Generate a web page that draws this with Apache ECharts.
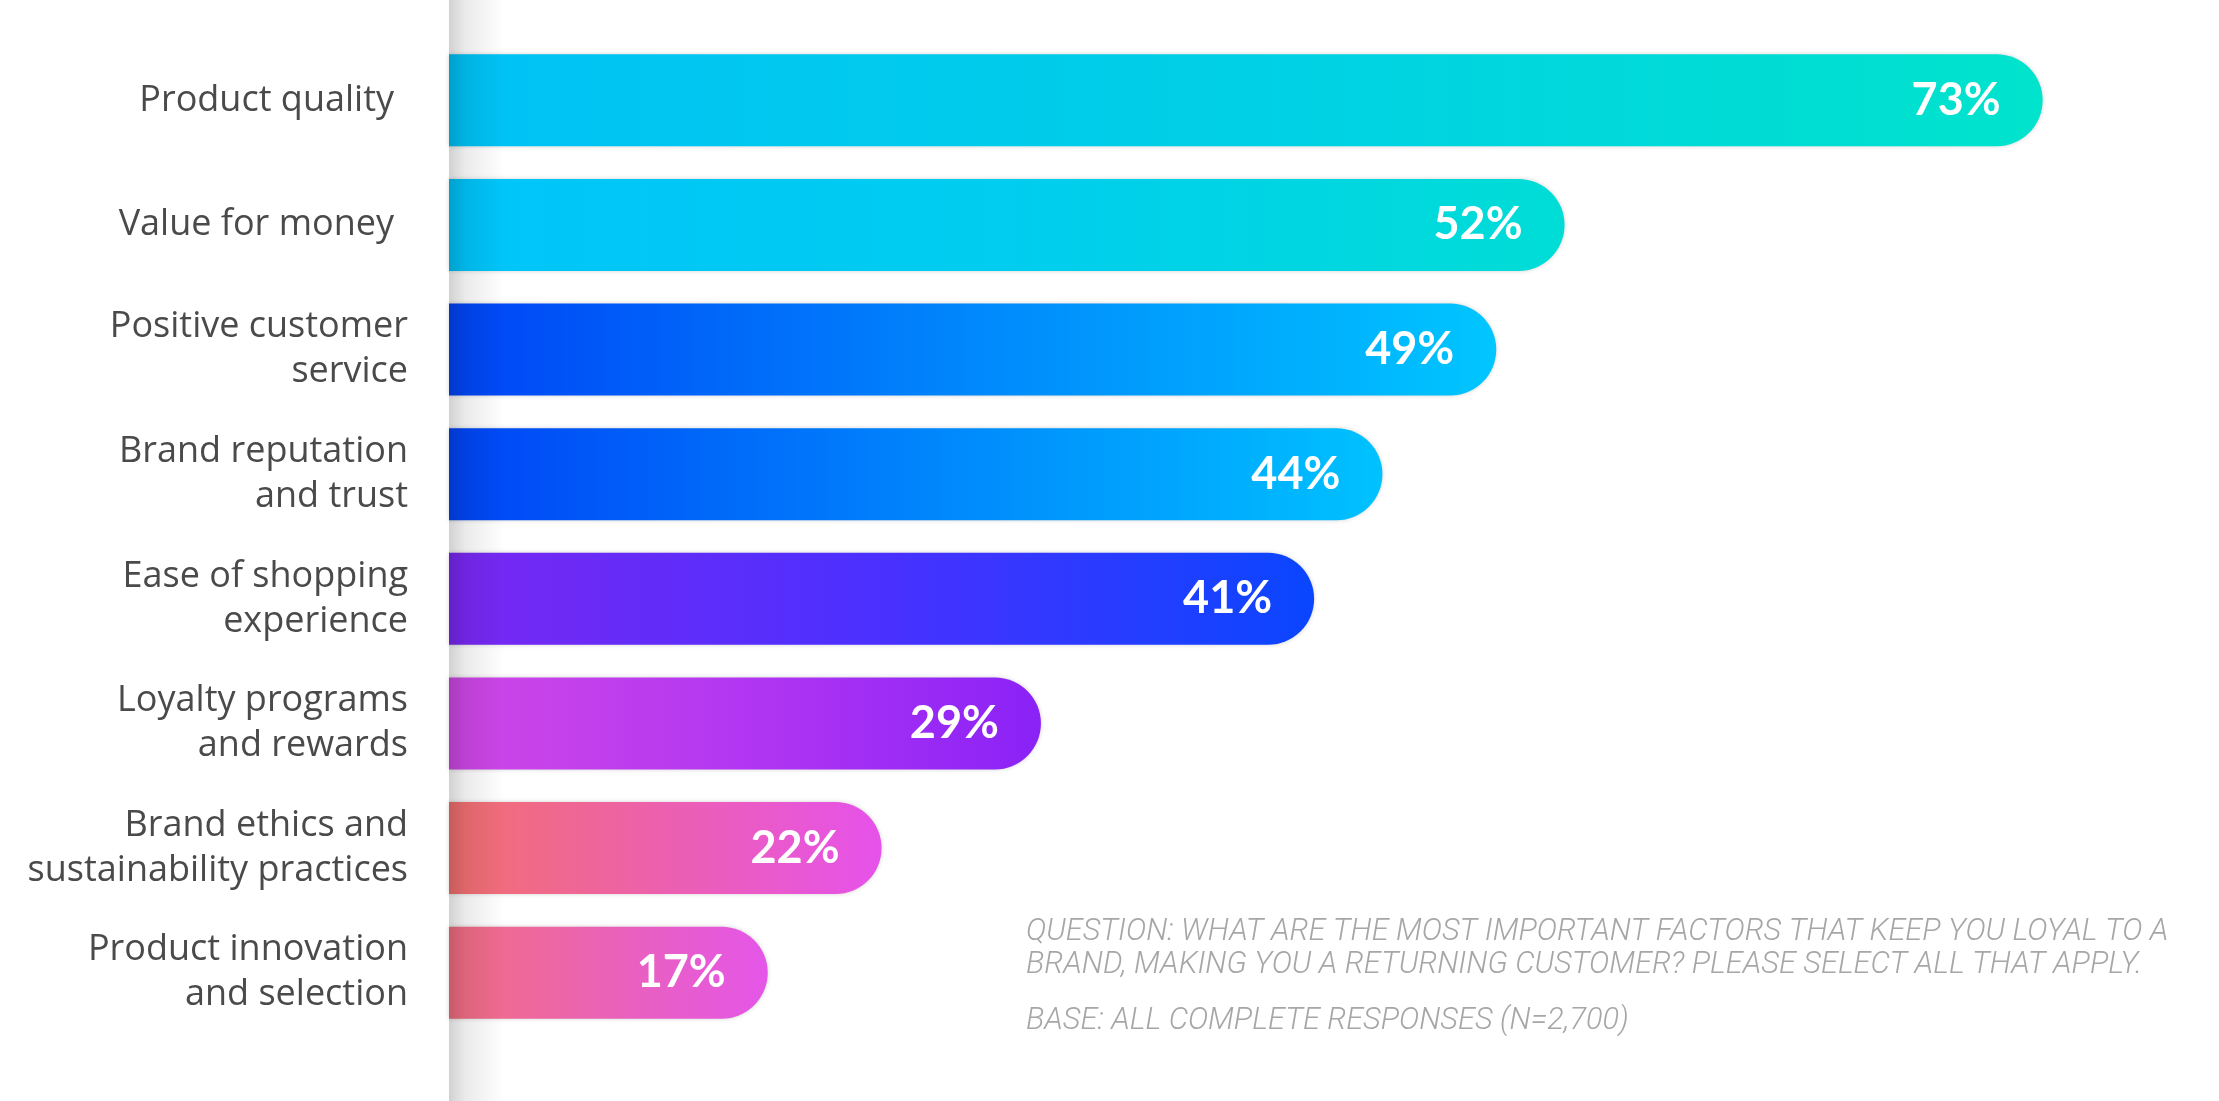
<!DOCTYPE html>
<html>
<head>
<meta charset="utf-8">
<style>
  html, body { margin: 0; padding: 0; background: #ffffff; }
  #chart { width: 2219px; height: 1101px; }
</style>
<script src="https://cdn.jsdelivr.net/npm/echarts@6/dist/echarts.min.js"></script>
</head>
<body>
<div id="chart"></div>
<script>
// Loyalty drivers, share of respondents (%)
const categories = [
  'Product quality',
  'Value for money',
  'Positive customer\nservice',
  'Brand reputation\nand trust',
  'Ease of shopping\nexperience',
  'Loyalty programs\nand rewards',
  'Brand ethics and\nsustainability practices',
  'Product innovation\nand selection'
];
const values = [73, 52, 49, 44, 41, 29, 22, 17];

// Per-bar horizontal gradient stops (left -> right)
const barGradients = [
  ['#00c2f6', '#00d0e6', '#00e3cc'],
  ['#00c4fa', '#00cdef', '#00ddd6'],
  ['#0044f6', '#0088fc', '#00c6ff'],
  ['#0044f6', '#0084fc', '#00c2ff'],
  ['#7a28f2', '#4a30ff', '#0a46ff'],
  ['#cf48e6', '#b236f2', '#8a22f6'],
  ['#f2706e', '#ec60b0', '#e652ea'],
  ['#f26e80', '#ea62b8', '#e456e8']
];

const noteLines = [
  'QUESTION: WHAT ARE THE MOST IMPORTANT FACTORS THAT KEEP YOU LOYAL TO A',
  'BRAND, MAKING YOU A RETURNING CUSTOMER? PLEASE SELECT ALL THAT APPLY.',
  'BASE: ALL COMPLETE RESPONSES (N=2,700)'
];

const chart = echarts.init(document.getElementById('chart'), null, { renderer: 'canvas' });

const gridLeft = 449;

const barData = values.map((v, i) => ({
  value: v,
  itemStyle: {
    color: new echarts.graphic.LinearGradient(0, 0, 1, 0, [
      { offset: 0, color: barGradients[i][0] },
      { offset: 0.5, color: barGradients[i][1] },
      { offset: 1, color: barGradients[i][2] }
    ])
  }
}));

const noteY = [932, 965, 1021];

chart.setOption({
  backgroundColor: '#ffffff',
  animation: false,
  grid: { left: gridLeft, right: 17, top: 38, bottom: 66, containLabel: false },
  xAxis: {
    type: 'value',
    min: 3,
    max: 80,
    show: false
  },
  yAxis: {
    type: 'category',
    data: categories,
    inverse: true,
    z: 20,
    axisLine: { show: false },
    axisTick: { show: false },
    splitLine: { show: false },
    axisLabel: {
      margin: 41,
      fontFamily: 'Open Sans',
      fontSize: 36,
      lineHeight: 45,
      color: '#4a4a4a',
      align: 'right',
      // single-line labels sit a little further from the bars
      formatter: v => (v.indexOf('\n') < 0 ? '{pad|' + v + '}' : v),
      rich: {
        pad: {
          fontFamily: 'Open Sans',
          fontSize: 36,
          color: '#4a4a4a',
          padding: [0, 14, 0, 0]
        }
      }
    }
  },
  series: [{
    type: 'bar',
    data: barData,
    barWidth: 92,
    itemStyle: {
      borderRadius: [0, 46, 46, 0],
      shadowBlur: 4,
      shadowColor: 'rgba(0,0,0,0.18)'
    },
    label: {
      show: true,
      position: 'insideRight',
      distance: 42,
      formatter: '{c}%',
      color: '#ffffff',
      fontFamily: 'Lato',
      fontWeight: 'bold',
      fontSize: 45
    }
  }],
  graphic: [
    {
      type: 'rect',
      z: 10,
      silent: true,
      shape: { x: gridLeft, y: 0, width: 56, height: 1101 },
      style: {
        fill: new echarts.graphic.LinearGradient(0, 0, 1, 0, [
          { offset: 0, color: 'rgba(0,0,0,0.18)' },
          { offset: 0.3, color: 'rgba(0,0,0,0.08)' },
          { offset: 1, color: 'rgba(0,0,0,0)' }
        ])
      }
    }
  ].concat(noteLines.map((t, i) => ({
    type: 'text',
    z: 10,
    silent: true,
    x: 1026,
    y: noteY[i],
    style: {
      text: t,
      fill: '#a6a6a6',
      fontFamily: 'Roboto',
      fontStyle: 'italic',
      fontWeight: 300,
      fontSize: 30.7,
      verticalAlign: 'middle',
      align: 'left'
    }
  })))
});
</script>
</body>
</html>
